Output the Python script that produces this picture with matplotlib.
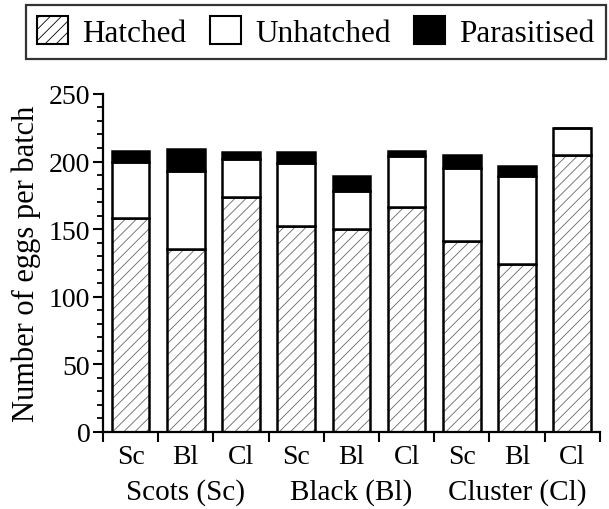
import matplotlib.pyplot as plt
from matplotlib.patches import Patch
from matplotlib.ticker import MultipleLocator
import numpy as np

plt.rcParams['font.family'] = ['Liberation Serif', 'DejaVu Serif']
plt.rcParams['hatch.linewidth'] = 0.6

# bar order: egg batch (Sc, Bl, Cl) within each host tree group
tree_labels = ["Sc", "Bl", "Cl", "Sc", "Bl", "Cl", "Sc", "Bl", "Cl"]
group_labels = ["Scots (Sc)", "Black (Bl)", "Cluster (Cl)"]
hatched = [158, 135, 174, 152, 150, 166, 141, 124, 205]
unhatched = [42, 58, 28, 47, 28, 38, 54, 65, 20]
parasitised = [8, 16, 5, 8, 11, 4, 10, 8, 0]

x = np.arange(1, len(tree_labels) + 1)
hatched = np.array(hatched)
unhatched = np.array(unhatched)
parasitised = np.array(parasitised)

fig = plt.figure(figsize=(6.09, 5.10), dpi=100)
ax = fig.add_axes([0.169, 0.1516, 0.816, 0.6622])

w = 0.68
lw = 1.8
hatch_col = "#666666"
# hatched part: grey pattern first, black outline on top
ax.bar(x, hatched, w, color="white", edgecolor=hatch_col, hatch="///", linewidth=0)
ax.bar(x, hatched, w, color="none", edgecolor="black", linewidth=lw)
ax.bar(x, unhatched, w, bottom=hatched, color="white", edgecolor="black", linewidth=lw)
ax.bar(x, parasitised, w, bottom=hatched + unhatched, color="black",
       edgecolor="black", linewidth=lw)

ax.set_xlim(0.5, 9.5)
ax.set_ylim(0, 250)
ax.spines["top"].set_visible(False)
ax.spines["right"].set_visible(False)
ax.spines["left"].set_linewidth(1.6)
ax.spines["bottom"].set_linewidth(1.6)

ax.yaxis.set_major_locator(MultipleLocator(50))
ax.yaxis.set_minor_locator(MultipleLocator(10))
ax.tick_params(axis="y", which="major", length=7, width=1.5, labelsize=20, pad=2)
ax.tick_params(axis="y", which="minor", length=4, width=1.3)

ax.set_xticks(np.arange(0.5, 10, 1))
ax.set_xticklabels([])
ax.tick_params(axis="x", which="major", length=7, width=1.5)
ax.set_xticks(x, minor=True)
ax.set_xticklabels(tree_labels, minor=True, fontsize=20)
ax.tick_params(axis="x", which="minor", length=0, pad=9)

for i, g in enumerate(group_labels):
    ax.text(x[3 * i + 1], -0.178, g, transform=ax.get_xaxis_transform(),
            ha="center", va="center", fontsize=21)

ax.set_ylabel("Number of eggs per batch", fontsize=22, labelpad=6)

handles = [
    Patch(facecolor="white", edgecolor="black", hatch="///", linewidth=1.5),
    Patch(facecolor="white", edgecolor="black", linewidth=1.5),
    Patch(facecolor="black", edgecolor="black", linewidth=1.5),
]
leg = fig.legend(handles, ["Hatched", "Unhatched", "Parasitised"], ncol=3,
                 loc="upper left", bbox_to_anchor=(26 / 609, 1 - 6 / 510), fontsize=22.5,
                 frameon=True, fancybox=False, edgecolor="black",
                 handlelength=1.0, handleheight=1.0, handletextpad=0.45,
                 columnspacing=0.75, borderpad=0.35, borderaxespad=0)
leg.get_frame().set_linewidth(1.6)

fig.savefig("out.png", dpi=100)
